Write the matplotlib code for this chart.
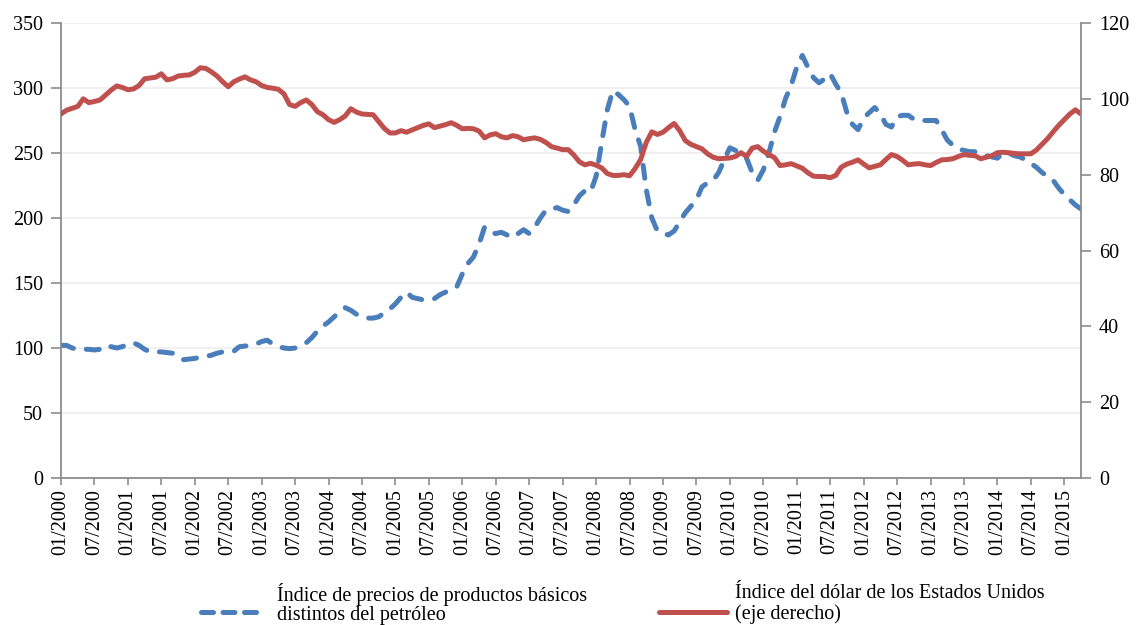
import numpy as np
import pandas as pd
import matplotlib
matplotlib.use("Agg")
import matplotlib.pyplot as plt
from matplotlib.lines import Line2D

plt.rcParams['font.family'] = ['Liberation Serif', 'DejaVu Serif']

# Monthly values, 01/2000 - 04/2015
months = pd.date_range('2000-01-01', periods=184, freq='MS').strftime('%m/%Y').tolist()

# Non-fuel commodity price index (left axis)
nonfuel_index = (
    [102, 102, 100, 99, 99, 99, 98.5, 99, 102, 101, 100, 101] +          # 2000
    [103, 104, 102, 99, 97, 97, 97, 96.5, 96, 93, 91, 91.5] +            # 2001
    [92, 93, 93.5, 94.5, 96, 97, 97, 97.5, 101, 101.5, 102, 103] +       # 2002
    [105, 106, 103, 101, 100, 99.5, 100, 102, 104, 108, 113, 117] +      # 2003
    [120, 124, 128, 131, 129, 126, 124, 123, 123, 124, 127, 130] +       # 2004
    [134, 139, 143, 139, 138, 137, 137.5, 138, 141, 143, 145, 147] +     # 2005
    [157, 165, 170, 180, 193, 189, 188, 189, 187, 185, 188, 191] +       # 2006
    [188, 193, 200, 206, 207, 208, 206, 205, 210, 217, 221, 220] +       # 2007
    [232, 258, 283, 298, 295, 291, 286, 268, 255, 222, 200, 190] +       # 2008
    [188, 187, 190, 197, 204, 209, 214, 224, 227, 229, 235, 245] +       # 2009
    [254, 252, 249, 246, 235, 229, 237, 250, 266, 278, 292, 302] +       # 2010
    [316, 325, 316, 308, 304, 307, 311, 303, 296, 281, 272, 268] +       # 2011
    [277, 281, 285, 280, 272, 270, 278, 279, 279, 276, 275, 275] +       # 2012
    [275, 275, 268, 260, 256, 253, 252, 251, 251, 250, 248, 247] +       # 2013
    [246, 250, 250, 248, 247, 245, 242, 239, 235, 232, 229, 223] +       # 2014
    [218, 214, 210, 207]                                                 # 2015
)

# US dollar index (right axis)
dollar_index = (
    [96, 97, 97.5, 98, 100, 99, 99.3, 99.7, 101, 102.3, 103.4, 103] +
    [102.4, 102.6, 103.5, 105.3, 105.5, 105.7, 106.6, 105, 105.3, 106, 106.2, 106.3] +
    [107, 108.2, 108, 107.1, 106, 104.5, 103.2, 104.5, 105.2, 105.8, 105, 104.5] +
    [103.5, 103, 102.8, 102.5, 101.3, 98.5, 98, 99, 99.7, 98.5, 96.6, 95.8] +
    [94.5, 93.8, 94.5, 95.5, 97.4, 96.5, 96, 95.9, 95.8, 94, 92.2, 91] +
    [91, 91.6, 91.2, 91.8, 92.4, 93, 93.4, 92.4, 92.8, 93.2, 93.7, 93] +
    [92.1, 92.2, 92.1, 91.5, 89.7, 90.5, 90.8, 90, 89.7, 90.3, 90, 89.2] +
    [89.5, 89.7, 89.3, 88.5, 87.4, 87, 86.6, 86.6, 85.2, 83.4, 82.6, 83] +
    [82.5, 81.8, 80.3, 79.8, 79.8, 80, 79.7, 81.6, 84, 88.5, 91.3, 90.6] +
    [91.2, 92.4, 93.5, 91.6, 89, 88, 87.4, 86.8, 85.5, 84.6, 84.2, 84.3] +
    [84.4, 84.8, 85.8, 84.8, 87, 87.4, 86.2, 85.3, 84.5, 82.4, 82.6, 82.9] +
    [82.3, 81.7, 80.5, 79.6, 79.5, 79.5, 79.2, 79.8, 82, 82.8, 83.3, 83.9] +
    [82.8, 81.8, 82.2, 82.6, 84, 85.3, 84.8, 83.8, 82.6, 82.8, 82.9, 82.6] +
    [82.4, 83.2, 83.9, 84, 84.2, 84.8, 85.3, 85.1, 85, 84.2, 84.6, 85] +
    [85.8, 85.9, 85.8, 85.6, 85.5, 85.5, 85.5, 86.5, 88, 89.5, 91.3, 93] +
    [94.5, 96, 97.1, 96]
)

label_nonfuel = 'Índice de precios de productos básicos\ndistintos del petróleo'
label_dollar = 'Índice del dólar de los Estados Unidos\n(eje derecho)'

blue = '#4A7EBB'
red = '#C0504D'
axis_gray = '#8C8C8C'
fs = 14.5
lw = 3.6

W, H = 1137, 625
fig = plt.figure(figsize=(W / 100, H / 100), dpi=100)
ax = fig.add_axes([61 / W, 1 - 478 / H, (1081 - 61) / W, (478 - 23) / H])
ax2 = ax.twinx()

x = np.arange(len(months))
ax.plot(x, nonfuel_index, color=blue, lw=lw, dashes=(2.6, 2.6),
        dash_capstyle='round', dash_joinstyle='round')
ax2.plot(x, dollar_index, color=red, lw=lw, solid_capstyle='round',
         solid_joinstyle='round')

ax.set_xlim(0, len(months) - 1)
ax.set_ylim(0, 350)
ax2.set_ylim(0, 120)
ax.set_yticks(np.arange(0, 351, 50))
ax2.set_yticks(np.arange(0, 121, 20))
ax.set_xticks(x[::6])
ax.set_xticklabels(months[::6], rotation=90)

ax.grid(axis='y', color='#EFEFEF', lw=1.3)
ax.set_axisbelow(True)

for a in (ax, ax2):
    a.spines['top'].set_visible(False)
    for s in ('left', 'right', 'bottom'):
        a.spines[s].set_color(axis_gray)
        a.spines[s].set_linewidth(1.3)
    a.tick_params(axis='both', colors=axis_gray, labelcolor='black',
                  labelsize=fs, width=1.2, length=7, direction='out')
ax.spines['right'].set_visible(False)
ax2.spines['left'].set_visible(False)
ax2.spines['bottom'].set_visible(False)
ax.tick_params(axis='y', pad=6)
ax2.tick_params(axis='y', pad=6)
ax.tick_params(axis='x', pad=3, length=5)

# legend, drawn by hand so the keys sit on the second text line
def legend_item(x0, x1, text_x, style, label):
    y = 1 - 612 / H
    ln = Line2D([x0 / W, x1 / W], [y, y], transform=fig.transFigure, lw=lw,
                solid_capstyle='round', dash_capstyle='round', **style)
    fig.add_artist(ln)
    fig.text(text_x / W, 1 - 604 / H, label, fontsize=fs, va='center',
             ha='left', linespacing=1.05)

legend_item(201, 262, 277, dict(color=blue, dashes=(2.4, 1.9)), label_nonfuel)
legend_item(659, 727, 735, dict(color=red), label_dollar)

fig.savefig('out.png', dpi=100)
